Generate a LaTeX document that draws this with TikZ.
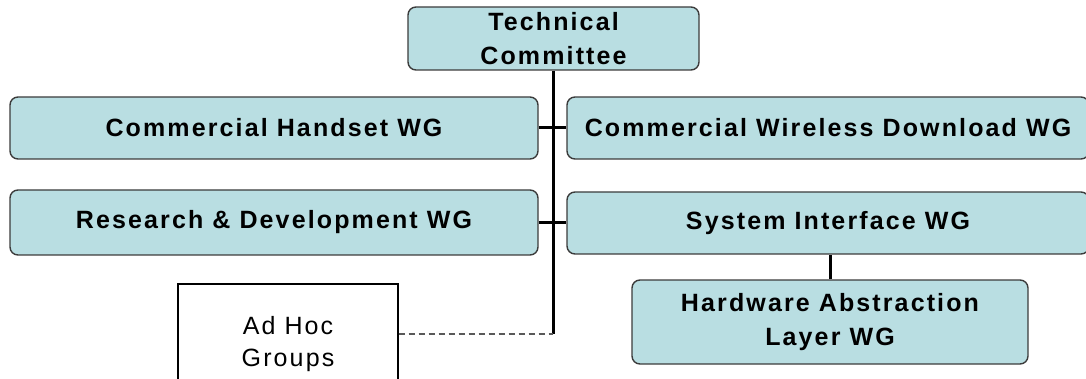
\documentclass[tikz,border=0pt]{standalone}
\usepackage{fontspec}
\setmainfont{Liberation Sans}
\newfontfamily\wgfont[LetterSpace=8.5]{Liberation Sans}
\definecolor{boxfill}{RGB}{185,222,226}
\definecolor{boxline}{RGB}{60,60,60}
\begin{document}
\begin{tikzpicture}[x=1pt,y=-1pt,
  wg/.style={draw=boxline,line width=1.4pt,fill=boxfill,rounded corners=8pt,
     font=\wgfont\bfseries\fontsize{25}{34}\selectfont,align=center,inner sep=0pt},
  adhoc/.style={draw=black,line width=1.2pt,fill=white,
     font=\wgfont\fontsize{25}{32}\selectfont,align=center,inner sep=0pt},
  link/.style={line width=3pt,black},
  dashlink/.style={line width=1.5pt,draw=black!65,dash pattern=on 6pt off 4pt}]
\useasboundingbox (0,0) rectangle (1086,379);
\clip (0,0) rectangle (1086,379);
\node[wg,minimum width=291,minimum height=63] (tc) at (553.5,38.5) {Technical\\Committee};
\node[wg,minimum width=528,minimum height=62] (cht) at (274,128) {Commercial Handset WG};
\node[wg,minimum width=522,minimum height=62] (cwd) at (828,128) {Commercial Wireless Download WG};
\node[wg,minimum width=528,minimum height=65] (rd) at (274,222.5) {Research \& Development WG};
\node[wg,minimum width=522,minimum height=62] (si) at (828,223) {System Interface WG};
\node[wg,minimum width=396,minimum height=84] (hal) at (830,322) {Hardware Abstraction\\Layer WG};
\node[adhoc,minimum width=220,minimum height=120] (ah) at (288,344) {Ad Hoc\\Groups};
\coordinate (j) at (553,334);
\draw[link] (tc.south) -- (tc.south |- j);
\draw[link] (cht.east) -- (cwd.west);
\draw[link] (rd.east) -- (rd.east -| si.west);
\draw[link] (hal.north) -- (hal.north |- si.south);
\draw[dashlink] (j -| ah.east) -- (j);
\end{tikzpicture}
\end{document}
